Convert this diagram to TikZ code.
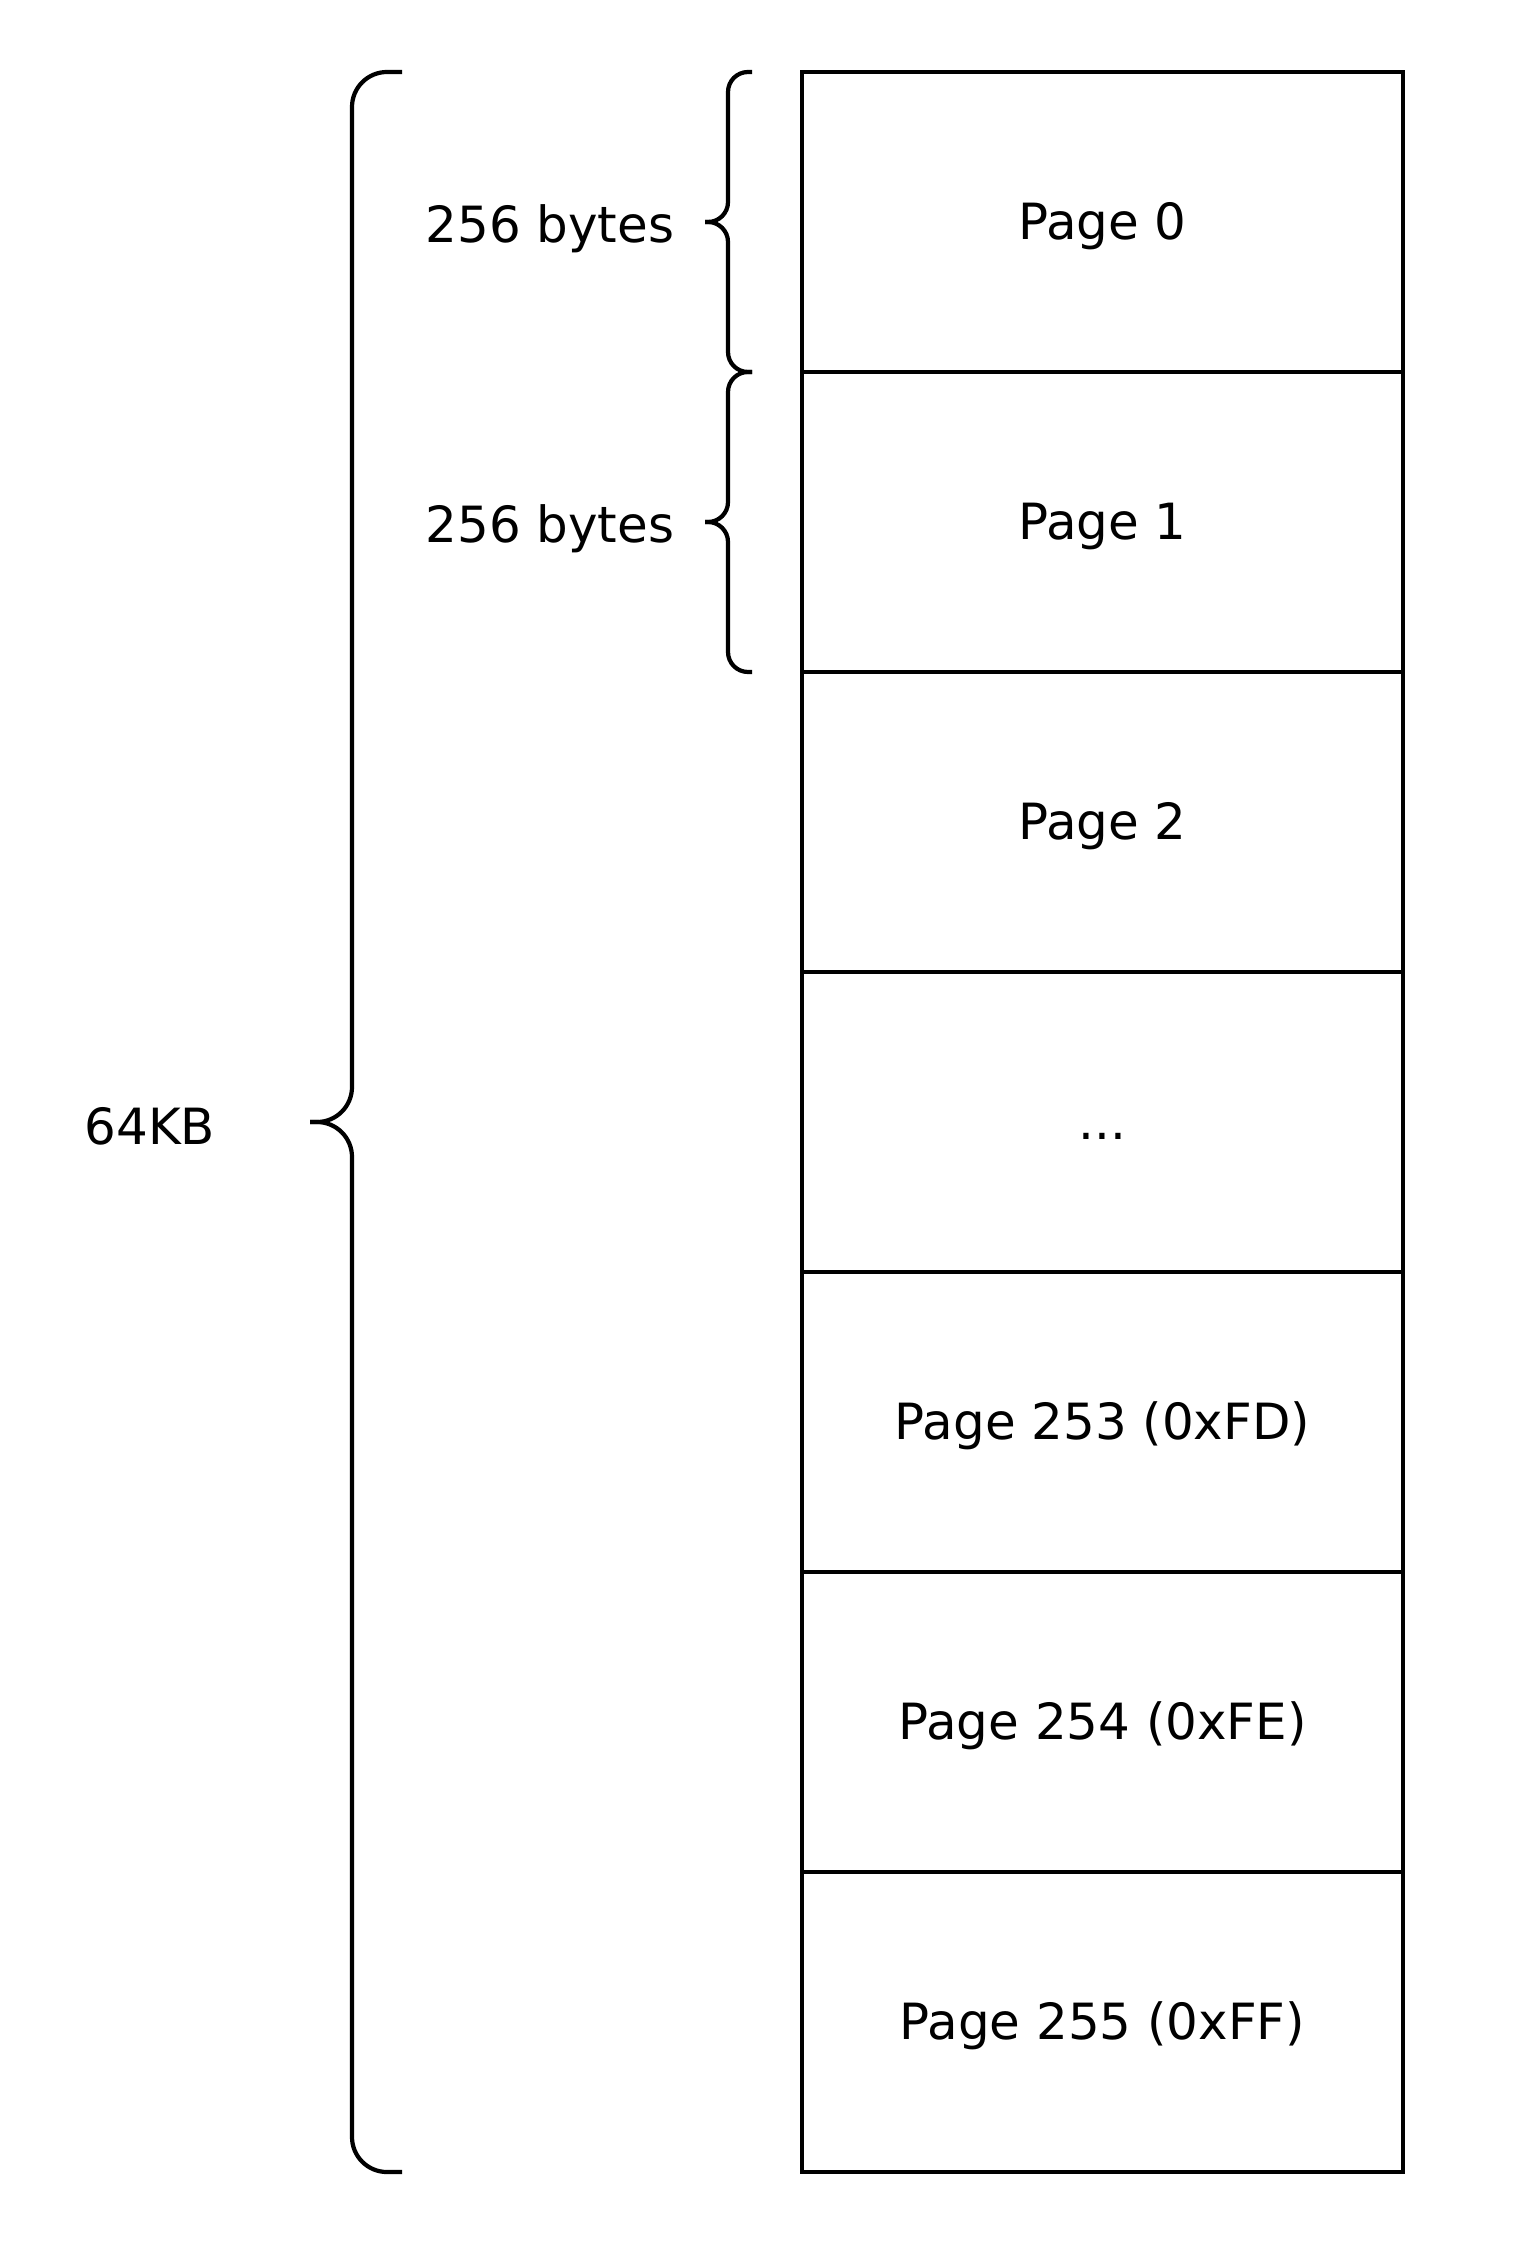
\documentclass[tikz,border=0pt]{standalone}
\usepackage{fontspec}
\setmainfont{DejaVu Sans}
\usetikzlibrary{positioning}

\begin{document}
\begin{tikzpicture}[
    every node/.style={font=\fontsize{14.2}{17}\selectfont, text height=0.97em, text depth=0pt},
    pagebox/.style={draw, line width=1.3pt, minimum width=6.01cm, minimum height=3cm, inner sep=0pt, outer sep=0pt},
    bracket/.style={line width=1.2pt, rounded corners=#1}
]
    \useasboundingbox (0,0) rectangle (15.35,-22.64);

    % Memory pages (right column)
    \node[pagebox] (p0) at (11.025,-2.22) {Page 0};
    \node[pagebox, below=0pt of p0] (p1) {Page 1};
    \node[pagebox, below=0pt of p1] (p2) {Page 2};
    \node[pagebox, below=0pt of p2] (p3) {...};
    \node[pagebox, below=0pt of p3] (p4) {Page 253 (0xFD)};
    \node[pagebox, below=0pt of p4] (p5) {Page 254 (0xFE)};
    \node[pagebox, below=0pt of p5] (p6) {Page 255 (0xFF)};

    % Page size braces
    \draw[bracket=0.2cm] ([xshift=-0.5cm]p0.north west) -| ([xshift=-0.74cm]p0.west) -- ([xshift=-0.97cm]p0.west);
    \draw[bracket=0.2cm] ([xshift=-0.5cm]p0.south west) -| ([xshift=-0.74cm]p0.west) -- ([xshift=-0.97cm]p0.west);
    \draw[bracket=0.2cm] ([xshift=-0.5cm]p1.north west) -| ([xshift=-0.74cm]p1.west) -- ([xshift=-0.97cm]p1.west);
    \draw[bracket=0.2cm] ([xshift=-0.5cm]p1.south west) -| ([xshift=-0.74cm]p1.west) -- ([xshift=-0.97cm]p1.west);
    \node (size0) at (5.5,-2.25) {256 bytes};
    \node (size1) at (5.5,-5.25) {256 bytes};

    % Whole address space brace
    \draw[bracket=0.35cm] ([xshift=-4cm]p0.north west) -| ([xshift=-4.5cm]p3.west) -- ([xshift=-4.92cm]p3.west);
    \draw[bracket=0.35cm] ([xshift=-4cm]p6.south west) -| ([xshift=-4.5cm]p3.west) -- ([xshift=-4.92cm]p3.west);
    \node (total) at (1.5,-11.27) {64KB};
\end{tikzpicture}
\end{document}
